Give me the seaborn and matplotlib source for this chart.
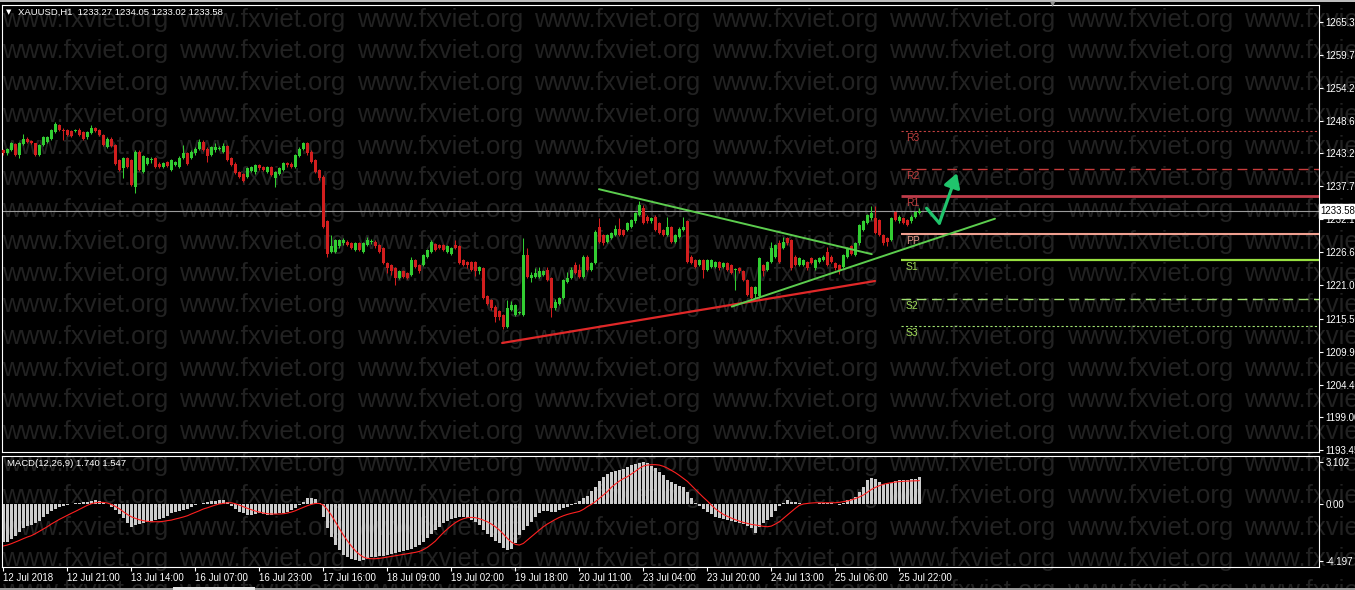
"""
XAUUSD H1 chart with pivot levels, trend lines and MACD(12,26,9) panel
"""
import matplotlib
matplotlib.use("Agg")
import numpy as np
import pandas as pd
import matplotlib.pyplot as plt
from matplotlib.patches import Rectangle
from matplotlib.transforms import blended_transform_factory
import seaborn as sns

# Candle data (one bar per hour, 12 Jul - 25 Jul 2018)
opens = [
    1243.8, 1243.2, 1243.8, 1244.8, 1243.0, 1244.8, 1245.7, 1245.3, 1244.9, 1242.9,
    1244.6, 1245.2, 1245.7, 1246.8, 1248.0, 1247.1, 1247.1, 1246.9, 1247.0, 1247.2,
    1246.8, 1245.9, 1246.7, 1247.4, 1247.1, 1246.3, 1244.3, 1245.7, 1244.6, 1242.1,
    1240.7, 1242.4, 1242.1, 1237.6, 1243.5, 1240.1, 1241.5, 1242.1, 1242.4, 1241.5,
    1240.9, 1241.8, 1240.4, 1241.3, 1241.0, 1242.4, 1243.2, 1242.4, 1243.2, 1244.0,
    1245.2, 1244.0, 1242.9, 1243.7, 1244.0, 1243.5, 1244.4, 1242.4, 1241.5, 1240.1,
    1239.7, 1239.3, 1240.3, 1240.0, 1241.3, 1240.9, 1240.1, 1240.9, 1239.0, 1239.7,
    1240.5, 1241.6, 1241.5, 1241.0, 1242.8, 1243.9, 1244.9, 1243.5, 1242.1, 1240.4,
    1239.3, 1231.8, 1226.7, 1226.7, 1227.6, 1228.1, 1228.4, 1228.1, 1227.0, 1228.1,
    1226.7, 1227.8, 1228.4, 1228.4, 1227.8, 1227.3, 1224.8, 1224.5, 1223.9, 1222.3,
    1223.4, 1223.1, 1222.8, 1225.3, 1224.5, 1224.5, 1225.9, 1226.7, 1228.0, 1227.8,
    1227.8, 1226.7, 1226.4, 1227.8, 1227.6, 1225.3, 1225.0, 1225.0, 1225.0, 1223.4,
    1223.9, 1219.2, 1218.6, 1217.5, 1216.7, 1216.1, 1214.1, 1216.9, 1216.1, 1216.4,
    1216.1, 1226.2, 1222.3, 1222.5, 1222.5, 1222.8, 1223.6, 1222.3, 1217.2, 1218.0,
    1218.9, 1221.7, 1222.3, 1224.5, 1223.6, 1222.5, 1225.9, 1223.6, 1224.8, 1230.9,
    1229.5, 1228.4, 1229.0, 1229.5, 1230.6, 1230.4, 1230.4, 1230.9, 1231.8, 1232.9,
    1234.0, 1232.6, 1231.8, 1232.6, 1231.5, 1230.4, 1229.5, 1230.9, 1228.4, 1229.2,
    1230.4, 1231.8, 1225.9, 1225.3, 1224.5, 1225.3, 1223.6, 1224.2, 1224.2, 1225.0,
    1224.2, 1224.8, 1224.5, 1223.6, 1223.9, 1223.4, 1222.0, 1220.8, 1219.7, 1219.2,
    1224.5, 1223.6, 1225.0, 1225.9, 1228.1, 1227.3, 1229.0, 1228.7, 1225.9, 1224.5,
    1224.5, 1225.0, 1225.6, 1223.9, 1225.0, 1225.3, 1226.7, 1225.9, 1224.8, 1224.5,
    1224.1, 1225.9, 1227.6, 1226.2, 1228.1, 1230.4, 1231.5, 1232.3, 1232.3, 1232.0,
    1229.5, 1229.0, 1228.7, 1233.4, 1231.8, 1232.3, 1232.0, 1231.8, 1232.6, 1233.27,
]
highs = [
    1243.9, 1244.1, 1245.1, 1245.0, 1245.1, 1246.5, 1245.9, 1245.5, 1245.0, 1244.8,
    1246.2, 1246.2, 1247.3, 1248.5, 1248.2, 1247.4, 1247.3, 1247.1, 1247.3, 1247.4,
    1247.0, 1247.0, 1248.0, 1247.6, 1247.3, 1246.5, 1245.9, 1245.9, 1244.8, 1242.3,
    1242.6, 1242.6, 1242.3, 1243.7, 1243.7, 1242.9, 1242.6, 1242.6, 1242.6, 1241.7,
    1241.8, 1242.0, 1242.3, 1242.0, 1242.7, 1244.6, 1243.4, 1243.7, 1244.2, 1245.7,
    1245.4, 1244.2, 1244.4, 1244.9, 1244.4, 1244.9, 1244.6, 1242.6, 1241.7, 1240.3,
    1239.9, 1240.9, 1241.1, 1241.5, 1241.5, 1241.1, 1241.1, 1241.1, 1240.3, 1240.9,
    1241.8, 1241.8, 1241.7, 1243.1, 1244.2, 1245.1, 1245.2, 1243.7, 1242.3, 1240.6,
    1239.5, 1232.0, 1229.5, 1228.9, 1228.9, 1229.0, 1228.6, 1228.3, 1228.3, 1228.3,
    1228.3, 1229.2, 1228.9, 1228.6, 1228.0, 1227.5, 1225.0, 1224.7, 1224.1, 1223.6,
    1223.6, 1223.3, 1225.9, 1225.5, 1224.7, 1226.4, 1227.2, 1228.6, 1228.2, 1228.0,
    1228.0, 1227.8, 1227.5, 1228.7, 1227.8, 1225.5, 1225.2, 1225.2, 1225.2, 1224.3,
    1224.1, 1219.4, 1218.8, 1217.7, 1216.9, 1216.3, 1218.6, 1218.5, 1218.0, 1216.8,
    1229.0, 1227.4, 1223.3, 1223.9, 1224.1, 1223.6, 1224.2, 1222.5, 1218.8, 1219.1,
    1222.2, 1223.3, 1224.1, 1225.0, 1224.6, 1226.1, 1226.1, 1225.0, 1230.3, 1232.3,
    1229.7, 1229.7, 1230.0, 1231.2, 1232.3, 1230.6, 1231.7, 1232.2, 1233.4, 1235.3,
    1234.6, 1232.8, 1232.5, 1232.8, 1231.7, 1230.6, 1232.6, 1231.1, 1229.7, 1230.8,
    1232.6, 1232.0, 1226.1, 1225.5, 1225.5, 1225.5, 1225.5, 1225.5, 1225.2, 1225.2,
    1225.0, 1225.0, 1224.7, 1224.0, 1224.1, 1223.6, 1222.2, 1221.0, 1221.0, 1225.8,
    1224.7, 1225.2, 1228.4, 1228.0, 1228.7, 1229.2, 1229.2, 1228.9, 1226.1, 1225.8,
    1225.5, 1225.2, 1225.8, 1225.5, 1225.8, 1226.1, 1227.5, 1226.1, 1225.0, 1224.7,
    1226.4, 1227.5, 1227.8, 1228.3, 1231.4, 1232.0, 1233.1, 1234.4, 1234.4, 1232.2,
    1229.7, 1229.2, 1232.5, 1233.6, 1232.8, 1232.5, 1232.2, 1232.8, 1233.6, 1234.05,
]
lows = [
    1243.0, 1243.0, 1243.6, 1242.7, 1242.4, 1244.6, 1245.0, 1244.7, 1242.7, 1242.7,
    1244.4, 1244.9, 1245.5, 1246.6, 1246.9, 1245.4, 1246.1, 1245.9, 1246.8, 1246.1,
    1245.5, 1245.7, 1246.5, 1246.8, 1246.1, 1244.4, 1244.1, 1244.2, 1241.3, 1240.2,
    1239.0, 1240.8, 1237.7, 1236.5, 1240.2, 1239.9, 1241.3, 1241.6, 1240.8, 1240.7,
    1240.7, 1240.9, 1240.2, 1241.1, 1240.8, 1242.2, 1241.3, 1242.2, 1243.0, 1243.8,
    1243.6, 1241.8, 1242.7, 1243.5, 1243.7, 1243.3, 1241.9, 1241.1, 1239.7, 1239.1,
    1238.4, 1239.1, 1240.1, 1239.8, 1240.5, 1240.2, 1239.9, 1239.4, 1237.5, 1239.5,
    1240.3, 1241.0, 1240.7, 1240.8, 1242.6, 1243.7, 1243.0, 1241.6, 1239.9, 1238.8,
    1230.7, 1225.9, 1226.5, 1226.5, 1227.4, 1227.9, 1227.6, 1227.1, 1226.8, 1226.8,
    1226.5, 1227.6, 1228.0, 1227.4, 1226.5, 1224.6, 1223.2, 1222.8, 1221.1, 1222.1,
    1222.3, 1222.1, 1222.6, 1223.9, 1223.2, 1224.3, 1225.7, 1226.5, 1226.8, 1227.1,
    1226.8, 1226.5, 1226.2, 1227.1, 1224.6, 1224.3, 1224.0, 1223.4, 1222.6, 1223.0,
    1218.7, 1217.8, 1217.0, 1215.0, 1215.3, 1213.7, 1213.9, 1216.7, 1215.9, 1216.2,
    1215.9, 1222.3, 1221.6, 1222.3, 1222.3, 1222.6, 1221.8, 1215.8, 1217.0, 1217.8,
    1218.7, 1221.5, 1222.1, 1222.9, 1222.3, 1222.3, 1223.4, 1223.4, 1224.6, 1228.2,
    1227.9, 1228.2, 1228.8, 1229.3, 1229.3, 1229.3, 1230.2, 1230.7, 1231.6, 1232.7,
    1231.3, 1231.6, 1231.6, 1230.2, 1229.6, 1229.3, 1229.3, 1228.2, 1228.2, 1229.0,
    1230.2, 1224.8, 1224.6, 1224.0, 1224.3, 1222.3, 1223.4, 1224.0, 1224.0, 1223.7,
    1224.0, 1223.4, 1222.9, 1220.3, 1223.2, 1221.8, 1219.2, 1218.7, 1219.0, 1219.0,
    1222.6, 1223.4, 1224.8, 1225.7, 1224.8, 1227.1, 1227.9, 1223.7, 1224.3, 1224.3,
    1224.3, 1223.7, 1224.6, 1223.7, 1224.8, 1225.1, 1224.3, 1224.8, 1223.7, 1223.0,
    1223.9, 1225.7, 1226.2, 1226.0, 1227.9, 1230.2, 1231.3, 1232.1, 1229.6, 1229.3,
    1227.9, 1227.6, 1228.5, 1231.8, 1231.6, 1231.3, 1231.0, 1231.6, 1232.4, 1233.02,
]
closes = [
    1243.2, 1243.9, 1244.9, 1242.9, 1244.9, 1245.7, 1245.2, 1244.9, 1242.9, 1244.6,
    1246.0, 1245.9, 1247.1, 1248.2, 1247.1, 1247.0, 1246.3, 1246.1, 1247.1, 1246.3,
    1245.7, 1246.8, 1247.4, 1247.0, 1246.3, 1244.6, 1245.7, 1244.4, 1241.5, 1240.4,
    1242.4, 1241.0, 1237.9, 1243.5, 1240.4, 1242.7, 1242.4, 1242.2, 1241.0, 1240.9,
    1241.6, 1241.1, 1242.1, 1241.8, 1242.5, 1243.2, 1241.5, 1243.5, 1244.0, 1245.2,
    1243.8, 1242.7, 1244.2, 1244.3, 1244.1, 1244.4, 1242.1, 1241.3, 1239.9, 1239.3,
    1238.6, 1240.7, 1240.9, 1241.3, 1240.7, 1240.4, 1240.9, 1239.6, 1240.1, 1240.7,
    1241.6, 1241.2, 1240.9, 1242.9, 1244.0, 1244.9, 1243.2, 1241.8, 1240.1, 1239.0,
    1230.9, 1226.4, 1227.6, 1228.7, 1228.7, 1228.7, 1227.8, 1227.3, 1228.1, 1227.0,
    1228.1, 1228.7, 1228.5, 1227.6, 1226.7, 1224.8, 1223.9, 1223.4, 1222.3, 1223.4,
    1222.5, 1222.3, 1225.3, 1224.1, 1223.4, 1226.2, 1227.0, 1228.4, 1227.0, 1227.3,
    1227.0, 1227.6, 1227.3, 1227.3, 1224.8, 1224.5, 1224.5, 1223.6, 1223.4, 1224.1,
    1218.9, 1218.0, 1217.2, 1215.8, 1215.8, 1214.1, 1217.2, 1217.8, 1217.8, 1216.5,
    1226.2, 1222.5, 1222.8, 1223.1, 1223.4, 1223.4, 1222.0, 1217.2, 1218.3, 1218.9,
    1222.0, 1222.3, 1223.6, 1223.1, 1222.5, 1225.9, 1223.6, 1224.8, 1230.1, 1228.4,
    1228.1, 1229.5, 1229.8, 1230.6, 1229.5, 1229.5, 1231.5, 1232.0, 1233.2, 1234.5,
    1231.5, 1231.8, 1232.3, 1230.4, 1229.8, 1229.5, 1230.9, 1228.4, 1229.5, 1230.6,
    1230.9, 1225.0, 1224.8, 1224.2, 1225.3, 1223.6, 1225.3, 1225.3, 1225.0, 1223.9,
    1224.8, 1223.6, 1223.1, 1223.7, 1223.4, 1222.0, 1219.4, 1218.9, 1220.8, 1225.6,
    1223.4, 1225.0, 1227.3, 1227.8, 1225.0, 1228.4, 1228.1, 1223.9, 1224.5, 1225.6,
    1225.3, 1223.9, 1224.8, 1225.3, 1225.6, 1225.9, 1224.5, 1225.0, 1223.9, 1223.6,
    1226.2, 1227.3, 1226.4, 1228.1, 1231.2, 1231.8, 1232.9, 1233.2, 1229.8, 1229.5,
    1228.1, 1228.4, 1232.3, 1232.0, 1232.6, 1231.5, 1231.2, 1232.6, 1233.4, 1233.58,
]

# MACD(12,26,9): main line (histogram) and signal line, per bar
macd_main = [
    -2.80, -2.80, -2.63, -2.39, -2.07, -1.82, -1.65, -1.57, -1.40, -1.25,
    -0.96, -0.76, -0.54, -0.37, -0.27, -0.17, -0.07, -0.02, 0.02, 0.05,
    0.10, 0.15, 0.20, 0.27, 0.22, 0.15, -0.02, -0.22, -0.47, -0.79,
    -1.08, -1.40, -1.70, -1.57, -1.50, -1.45, -1.35, -1.28, -1.21, -1.16,
    -1.08, -0.91, -0.71, -0.59, -0.52, -0.47, -0.37, -0.27, -0.12, 0.00,
    0.07, 0.10, 0.17, 0.22, 0.27, 0.27, 0.15, -0.17, -0.42, -0.59,
    -0.71, -0.84, -0.84, -0.79, -0.71, -0.76, -0.84, -0.84, -0.79, -0.71,
    -0.66, -0.59, -0.47, -0.34, -0.10, 0.15, 0.39, 0.44, 0.32, 0.02,
    -0.96, -1.82, -2.48, -3.05, -3.42, -3.79, -3.96, -4.11, -4.16, -4.197,
    -4.16, -4.06, -3.96, -3.91, -3.86, -3.84, -3.79, -3.71, -3.64, -3.57,
    -3.49, -3.42, -3.35, -3.22, -3.08, -2.83, -2.56, -2.24, -1.94, -1.70,
    -1.45, -1.28, -1.16, -1.06, -0.96, -1.01, -1.08, -1.21, -1.33, -1.57,
    -1.94, -2.24, -2.48, -2.73, -2.93, -3.25, -3.42, -3.32, -2.88, -2.31,
    -1.94, -1.65, -1.33, -0.96, -0.71, -0.52, -0.52, -0.64, -0.59, -0.47,
    -0.34, -0.22, -0.07, 0.05, 0.22, 0.39, 0.57, 0.96, 1.25, 1.70,
    1.99, 2.16, 2.31, 2.41, 2.48, 2.58, 2.68, 2.83, 2.93, 3.03,
    3.102, 2.98, 2.80, 2.61, 2.36, 2.12, 1.75, 1.57, 1.43, 1.30,
    1.21, 0.89, 0.39, 0.02, -0.17, -0.37, -0.59, -0.76, -0.96, -1.08,
    -1.16, -1.21, -1.30, -1.38, -1.45, -1.53, -1.62, -1.82, -2.19, -1.70,
    -1.40, -1.21, -0.96, -0.52, -0.17, 0.07, 0.27, 0.15, 0.10, 0.02,
    -0.02, -0.02, -0.02, 0.00, 0.02, 0.05, 0.07, 0.05, -0.02, -0.10,
    0.02, 0.27, 0.32, 0.52, 0.89, 1.25, 1.75, 1.87, 1.83, 1.62,
    1.43, 1.43, 1.55, 1.70, 1.75, 1.75, 1.75, 1.80, 1.83, 2.00,
]
macd_signal = [
    -3.12, -3.05, -2.95, -2.83, -2.71, -2.58, -2.46, -2.36, -2.21, -2.04,
    -1.87, -1.70, -1.50, -1.33, -1.16, -1.01, -0.86, -0.71, -0.57, -0.42,
    -0.27, -0.12, 0.00, 0.07, 0.10, 0.10, 0.05, -0.05, -0.20, -0.37,
    -0.59, -0.79, -0.96, -1.08, -1.18, -1.25, -1.30, -1.33, -1.33, -1.33,
    -1.30, -1.25, -1.21, -1.13, -1.06, -0.98, -0.89, -0.76, -0.64, -0.52,
    -0.39, -0.30, -0.20, -0.10, -0.02, 0.02, 0.07, 0.07, 0.00, -0.10,
    -0.22, -0.34, -0.44, -0.54, -0.62, -0.69, -0.74, -0.76, -0.76, -0.76,
    -0.74, -0.69, -0.62, -0.52, -0.39, -0.27, -0.15, -0.05, 0.02, 0.02,
    -0.10, -0.42, -0.84, -1.33, -1.82, -2.31, -2.73, -3.12, -3.47, -3.74,
    -3.94, -4.03, -4.06, -4.06, -4.03, -3.99, -3.94, -3.89, -3.84, -3.79,
    -3.74, -3.69, -3.64, -3.59, -3.52, -3.39, -3.22, -3.00, -2.76, -2.44,
    -2.14, -1.87, -1.62, -1.40, -1.23, -1.11, -1.03, -1.01, -1.03, -1.11,
    -1.21, -1.33, -1.50, -1.70, -1.94, -2.24, -2.56, -2.83, -3.00, -3.05,
    -2.93, -2.68, -2.44, -2.19, -1.94, -1.70, -1.50, -1.33, -1.16, -1.01,
    -0.89, -0.79, -0.71, -0.64, -0.57, -0.42, -0.22, -0.05, 0.15, 0.39,
    0.64, 0.89, 1.21, 1.45, 1.67, 1.85, 1.99, 2.19, 2.39, 2.61,
    2.78, 2.85, 2.88, 2.88, 2.85, 2.76, 2.63, 2.46, 2.29, 2.09,
    1.87, 1.65, 1.35, 1.06, 0.76, 0.47, 0.20, -0.10, -0.37, -0.59,
    -0.79, -0.93, -1.06, -1.18, -1.28, -1.38, -1.45, -1.53, -1.57, -1.62,
    -1.67, -1.70, -1.65, -1.50, -1.33, -1.08, -0.84, -0.59, -0.34, -0.12,
    -0.02, 0.02, 0.05, 0.07, 0.07, 0.07, 0.07, 0.07, 0.07, 0.10,
    0.15, 0.20, 0.28, 0.38, 0.50, 0.64, 0.85, 1.05, 1.20, 1.33,
    1.43, 1.50, 1.55, 1.60, 1.63, 1.65, 1.67, 1.68, 1.69, 1.70,
]

time_labels = ["12 Jul 2018", "12 Jul 21:00", "13 Jul 14:00", "16 Jul 07:00", "16 Jul 23:00",
               "17 Jul 16:00", "18 Jul 09:00", "19 Jul 02:00", "19 Jul 18:00", "20 Jul 11:00",
               "23 Jul 04:00", "23 Jul 20:00", "24 Jul 13:00", "25 Jul 06:00", "25 Jul 22:00"]
time_label_bars = [0, 16, 32, 48, 64, 80, 96, 112, 128, 144, 160, 176, 192, 208, 224]
price_ticks = [1265.30, 1259.75, 1254.20, 1248.65, 1243.25, 1237.70, 1232.15,
               1226.60, 1221.05, 1215.50, 1209.95, 1204.40, 1199.00, 1193.45]
macd_ticks = [3.102, 0.0, -4.197]
macd_tick_labels = ["3.102", "0.00", "-4.197"]

# daily pivot levels
pivot_names = ["R3", "R2", "R1", "PP", "S1", "S2", "S3"]
pivot_levels = [1246.96, 1240.60, 1236.06, 1229.68, 1225.32, 1218.77, 1214.24]
pivot_start_bar = 224.3

# hand-drawn objects (bar index, price)
red_trend_bars, red_trend_prices = [124.7, 217.9], [1211.4, 1221.8]
upper_trend_bars, upper_trend_prices = [148.9, 217.1], [1237.2, 1226.3]
lower_trend_bars, lower_trend_prices = [182.1, 247.9], [1217.5, 1232.25]
arrow_bars, arrow_prices = [230.8, 234.0, 238.4], [1234.0, 1231.5, 1239.9]
last_price = 1233.58
header = "XAUUSD,H1  1233.27 1234.05 1233.02 1233.58"
macd_header = "MACD(12,26,9) 1.740 1.547"

# Styling
BULL, BEAR = "#32cd32", "#d21e1e"
W, H = 1355, 590
FS = 7.0

sns.set_style("dark", {"axes.facecolor": "none", "figure.facecolor": "black",
                       "axes.edgecolor": "white", "text.color": "white",
                       "xtick.color": "white", "ytick.color": "white"})
plt.rcParams["font.family"] = ["Liberation Sans", "DejaVu Sans"]


def px_box(x0, y0, x1, y1):
    """pixel box (top-left origin) -> figure fraction rect"""
    return [x0 / W, 1 - y1 / H, (x1 - x0) / W, (y1 - y0) / H]


fig = plt.figure(figsize=(W / 100, H / 100), dpi=100, facecolor="black")

# watermark behind everything
for k in range(19):
    for j in range(8):
        fig.text((2 + 177.5 * j) / W, 1 - (26.5 + 31.75 * k) / H, "www.fxviet.org",
                 fontsize=18.5, color="#222222", va="baseline", ha="left",
                 family=["Liberation Sans", "DejaVu Sans"], zorder=-5)

ax = fig.add_axes(px_box(2, 5, 1319, 452))
axm = fig.add_axes(px_box(2, 456, 1319, 567))

# candles
df = pd.DataFrame({"open": opens, "high": highs, "low": lows, "close": closes})
df["bar"] = np.arange(len(df))
col = np.where(df["close"] >= df["open"], BULL, BEAR)
body_lo = df[["open", "close"]].min(axis=1)
body_h = (df["close"] - df["open"]).abs().clip(lower=0.17)
ax.vlines(df["bar"], df["low"], df["high"], colors=col, linewidth=0.75, zorder=3)
ax.bar(df["bar"], body_h, bottom=body_lo, width=0.72, color=col, linewidth=0, zorder=3)

# current price line
ax.axhline(last_price, color="#9a9a9a", linewidth=0.8, zorder=2)

# pivot lines + labels
pv_colors = ["#c04040", "#c83c3c", "#be3c4a", "#f0a090", "#98e040", "#a0e070", "#a0e070"]
pv_styles = [(0, (2, 2)), (0, (7, 4)), "-", "-", "-", (0, (7, 4)), (0, (2, 2))]
pv_widths = [0.8, 1.0, 2.0, 1.5, 1.6, 1.0, 0.8]
lbl_colors = ["#c04040", "#c04040", "#c04040", "#e09888", "#a0dc58", "#a0dc58", "#a0dc58"]
for name, lvl, c, ls, lw, lc in zip(pivot_names, pivot_levels, pv_colors, pv_styles, pv_widths, lbl_colors):
    ax.hlines(lvl, pivot_start_bar, 330, colors=c, linestyles=ls, linewidth=lw, zorder=2)
    ax.text(pivot_start_bar + 1.3, lvl - 1.2, name, color=lc, fontsize=7.5, va="center", ha="left", zorder=4)

# trend lines
ax.plot(red_trend_bars, red_trend_prices, color="#e02828", linewidth=1.6, zorder=4)
ax.plot(upper_trend_bars, upper_trend_prices, color="#5ccd4e", linewidth=1.4, zorder=4)
ax.plot(lower_trend_bars, lower_trend_prices, color="#5ccd4e", linewidth=1.4, zorder=4)

# forecast arrow
ARROW = "#20c46c"
ax.plot(arrow_bars[:2], arrow_prices[:2], color=ARROW, linewidth=2.3, solid_capstyle="round", zorder=5)
ax.annotate("", xy=(arrow_bars[2], arrow_prices[2]), xytext=(arrow_bars[1], arrow_prices[1]),
            arrowprops=dict(arrowstyle="-|>,head_length=0.6,head_width=0.35", color=ARROW,
                            lw=2.3, mutation_scale=14, shrinkA=0, shrinkB=0), zorder=5)

# MACD panel
sns.barplot(x=df["bar"], y=macd_main, native_scale=True, color="#cccccc", saturation=1,
            width=0.6, errorbar=None, linewidth=0, ax=axm)
sns.lineplot(x=df["bar"], y=macd_signal, color="#ff2020", linewidth=0.8, ax=axm)

# axes limits / ticks
for a in (ax, axm):
    a.set_xlim(-0.325, 328.9)
    a.set_xlabel("")
    a.set_ylabel("")
    a.grid(False)
    for s in a.spines.values():
        s.set_color("white")
        s.set_linewidth(0.8)
    a.yaxis.tick_right()

ax.set_ylim(1193.11, 1268.10)
ax.set_xticks([])
ax.set_yticks(price_ticks)
ax.set_yticklabels([f"{v:.2f}" for v in price_ticks])
ax.tick_params(axis="y", right=True, left=False, length=3, width=0.8, pad=1.5,
               labelsize=FS, colors="white")

axm.set_ylim(-4.67, 3.52)
axm.set_yticks(macd_ticks)
axm.set_yticklabels(macd_tick_labels)
axm.tick_params(axis="y", right=True, left=False, length=3, width=0.8, pad=1.5,
                labelsize=FS, colors="white")
axm.set_xticks(time_label_bars)
axm.set_xticklabels(time_labels, ha="left")
axm.tick_params(axis="x", bottom=True, length=3, width=0.8, pad=1.5, labelsize=FS, colors="white")

# last price box on the right scale
trans = blended_transform_factory(ax.transAxes, ax.transData)
ax.text(1.0012, last_price, "1233.58", transform=trans, color="black", fontsize=FS,
        va="center", ha="left", clip_on=False, zorder=10,
        bbox=dict(boxstyle="square,pad=0.2", fc="white", ec="white"))

# header texts
fig.text(6 / W, 1 - 12 / H, "\u25bc", fontsize=5, color="white", va="center", ha="left",
         family=["DejaVu Sans"])
fig.text(18 / W, 1 - 12 / H, header, fontsize=6.8, color="white", va="center", ha="left")
fig.text(7 / W, 1 - 464 / H, macd_header, fontsize=6.8, color="white", va="center", ha="left")
fig.text(1053 / W, 1 - 4 / H, "\u25bc", fontsize=5, color="#8c8c8c", va="center", ha="center",
         family=["DejaVu Sans"])

# window edges
fig.add_artist(Rectangle((0, 1 - 2 / H), 1, 2 / H, transform=fig.transFigure, color="#bdbdbd", lw=0))
fig.add_artist(Rectangle((0, 0), 1, 2 / H, transform=fig.transFigure, color="#9a9a9a", lw=0))
fig.add_artist(Rectangle((173 / W, 0), 82 / W, 3 / H, transform=fig.transFigure, color="#e6e6e6", lw=0))

fig.savefig("out.png", dpi=100, facecolor="black")
